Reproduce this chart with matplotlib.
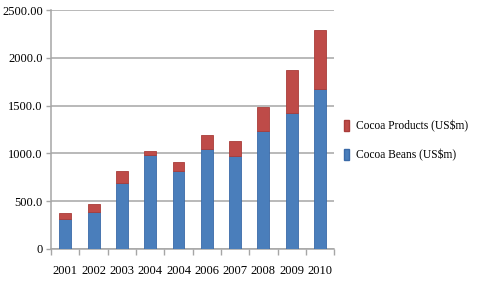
import numpy as np
import matplotlib
matplotlib.use("Agg")
import matplotlib.pyplot as plt
from matplotlib.patches import Patch

years = ["2001", "2002", "2003", "2004", "2004", "2006", "2007", "2008", "2009", "2010"]
beans = [314, 390, 694, 983, 819, 1043, 976, 1234, 1423, 1670]
products = [66, 84, 125, 45, 87, 146, 157, 251, 446, 618]
ytick_vals = [0, 500, 1000, 1500, 2000, 2500]
ytick_labels = ["0", "500.0", "1000.0", "1500.0", "2000.0", "2500.00"]

blue = "#4a7ebb"
red = "#be4b48"

plt.rcParams["font.family"] = ["Liberation Serif", "DejaVu Serif"]

fig = plt.figure(figsize=(4.78, 2.81), dpi=100)
ax = fig.add_axes([0.107, 0.114, 0.592, 0.85])

x = np.arange(len(years))
ax.bar(x, beans, width=0.42, color=blue, edgecolor="#3a6aa8", linewidth=0.6, zorder=3)
ax.bar(x, products, bottom=beans, width=0.42, color=red, edgecolor="#a93c39", linewidth=0.6, zorder=3)

ax.set_xlim(-0.5, len(years) - 0.5)
ax.set_ylim(0, 2500)
ax.set_yticks(ytick_vals)
ax.set_yticklabels(ytick_labels)
ax.set_xticks(x)
ax.set_xticklabels(years)
ax.set_xticks(np.arange(-0.5, len(years)), minor=True)

ax.yaxis.grid(True, color="#a6a6a6", linewidth=1.1, zorder=0)
ax.tick_params(axis="x", which="major", length=0, pad=11.5, labelsize=9)
ax.tick_params(axis="x", which="minor", length=4, color="#a6a6a6", width=1)
ax.tick_params(axis="y", length=3.5, color="#a6a6a6", width=1, pad=2.5, labelsize=9)

for s in ["top", "right"]:
    ax.spines[s].set_visible(False)
for s in ["left", "bottom"]:
    ax.spines[s].set_color("#a6a6a6")
    ax.spines[s].set_linewidth(1.1)

handles = [Patch(facecolor=red, edgecolor="#a93c39"), Patch(facecolor=blue, edgecolor="#3a6aa8")]
fig.legend(handles, ["Cocoa Products (US$m)", "Cocoa Beans (US$m)"],
           loc="center left", bbox_to_anchor=(0.703, 0.5), frameon=False,
           fontsize=8.3, handlelength=0.45, handleheight=1.1, handletextpad=0.6,
           labelspacing=1.45, borderpad=0.2)

fig.savefig("out.png", dpi=100)
